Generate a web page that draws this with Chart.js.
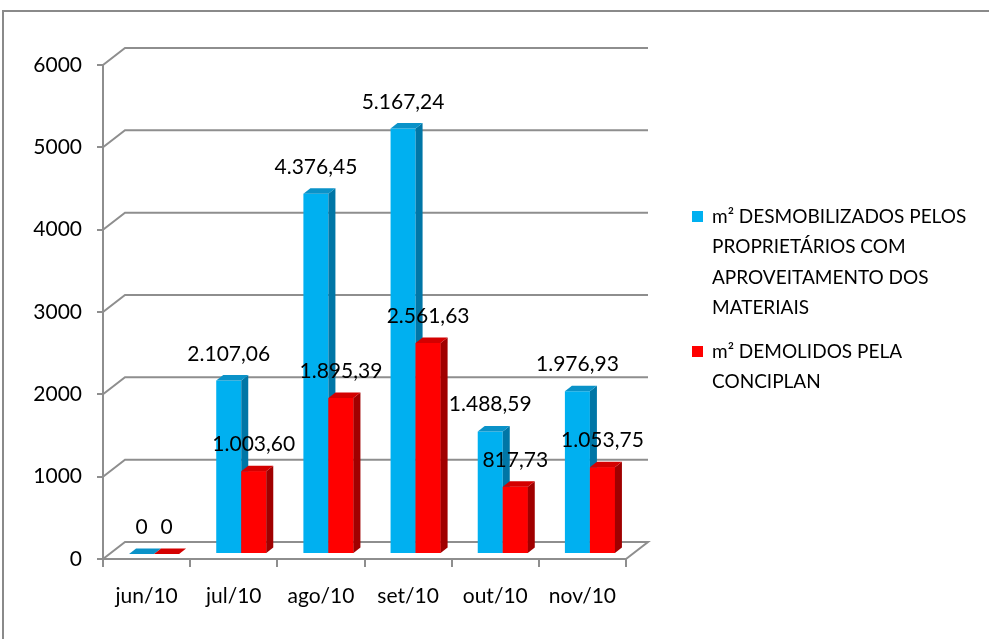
<!DOCTYPE html>
<html lang="pt-BR">

<head>
    <meta charset="UTF-8">
    <meta name="viewport" content="width=device-width, initial-scale=1.0">
    <title>m² desmobilizados x demolidos</title>
    <script src="https://cdn.jsdelivr.net/npm/chart.js"></script>
    <style>
        html, body { margin: 0; padding: 0; background: #fff; }
        canvas { display: block; }
    </style>
</head>

<body>
    <canvas id="barChart" width="989" height="639"></canvas>

    <script>
        // data
        const categories = ['jun/10', 'jul/10', 'ago/10', 'set/10', 'out/10', 'nov/10'];
        const desmobilizados = [0, 2107.06, 4376.45, 5167.24, 1488.59, 1976.93];
        const demolidos = [0, 1003.60, 1895.39, 2561.63, 817.73, 1053.75];
        const legendLines = [
            ['m² DESMOBILIZADOS PELOS', 'PROPRIETÁRIOS COM', 'APROVEITAMENTO DOS', 'MATERIAIS'],
            ['m² DEMOLIDOS PELA', 'CONCIPLAN']
        ];
        const yMin = 0, yMax = 6000, yStep = 1000;

        const FONT = 'Lato, "Open Sans", sans-serif';
        const GRID = '#8e8e8e';
        const TEXT = '#000';
        // front face, top face, side face
        const blues = ['#00b0f0', '#0a92c8', '#0076a6'];
        const reds = ['#ff0000', '#d40000', '#a00000'];

        // depth of the box (back wall offset) and of the bars
        const DX = 22, DY = -17;
        const OX = 7.5, OY = -5;
        const BDX = 7, BDY = -5.5;

        function fmt(v) {
            if (v === 0) return '0';
            const parts = v.toFixed(2).split('.');
            return parts[0].replace(/\B(?=(\d{3})+(?!\d))/g, '.') + ',' + parts[1];
        }

        function drawBox3d(ctx, el, cols) {
            const x0 = el.x - el.width / 2, x1 = el.x + el.width / 2;
            const top = el.y, base = el.base;
            // side
            ctx.fillStyle = cols[2];
            ctx.beginPath();
            ctx.moveTo(x1, top);
            ctx.lineTo(x1 + BDX, top + BDY);
            ctx.lineTo(x1 + BDX, base + BDY);
            ctx.lineTo(x1, base);
            ctx.closePath();
            ctx.fill();
            // top
            ctx.fillStyle = cols[1];
            ctx.beginPath();
            ctx.moveTo(x0, top);
            ctx.lineTo(x1, top);
            ctx.lineTo(x1 + BDX, top + BDY);
            ctx.lineTo(x0 + BDX, top + BDY);
            ctx.closePath();
            ctx.fill();
        }

        const box3d = {
            id: 'box3d',
            beforeDraw(chart) {
                const ctx = chart.ctx;
                ctx.save();
                ctx.fillStyle = '#fff';
                ctx.fillRect(0, 0, chart.width, chart.height);
                ctx.strokeStyle = '#8a8a8a';
                ctx.lineWidth = 2;
                ctx.strokeRect(3, 11, chart.width + 50, chart.height + 50);
                ctx.restore();
            },
            beforeDatasetsDraw(chart) {
                const ctx = chart.ctx;
                const a = chart.chartArea;
                const y = chart.scales.y;
                ctx.save();
                ctx.strokeStyle = GRID;
                ctx.lineWidth = 2;
                for (let v = yMin; v <= yMax; v += yStep) {
                    const py = y.getPixelForValue(v);
                    ctx.beginPath();
                    ctx.moveTo(a.left, py);
                    ctx.lineTo(a.left + DX, py + DY);
                    ctx.lineTo(a.right + DX, py + DY);
                    if (v === yMin) {
                        ctx.lineTo(a.right, py);
                    }
                    ctx.stroke();
                }
                ctx.restore();
                // bars sit a bit inside the box
                ctx.save();
                ctx.translate(OX, OY);
            },
            afterDatasetsDraw(chart) {
                const ctx = chart.ctx;
                const blueMeta = chart.getDatasetMeta(0);
                const redMeta = chart.getDatasetMeta(1);
                blueMeta.data.forEach((blue, i) => {
                    const red = redMeta.data[i];
                    drawBox3d(ctx, blue, blues);
                    red.draw(ctx);
                    drawBox3d(ctx, red, reds);
                });
                // value labels
                ctx.fillStyle = TEXT;
                ctx.font = '21px ' + FONT;
                ctx.textAlign = 'center';
                ctx.textBaseline = 'alphabetic';
                [blueMeta, redMeta].forEach((meta, d) => {
                    const values = chart.data.datasets[d].data;
                    meta.data.forEach((el, i) => {
                        ctx.fillText(fmt(values[i]), el.x, el.y - 20);
                    });
                });
                ctx.restore();
            },
            afterDraw(chart) {
                const ctx = chart.ctx;
                ctx.save();
                ctx.font = '19px ' + FONT;
                ctx.textAlign = 'left';
                ctx.textBaseline = 'alphabetic';
                const starts = [223, 358];
                const colors = [blues[0], reds[0]];
                legendLines.forEach((lines, s) => {
                    ctx.fillStyle = colors[s];
                    ctx.fillRect(692, starts[s] - 12, 11, 11);
                    ctx.fillStyle = TEXT;
                    lines.forEach((t, k) => {
                        ctx.fillText(t, 712, starts[s] + k * 30.3);
                    });
                });
                ctx.restore();
            }
        };

        document.addEventListener('DOMContentLoaded', function () {
            const ctx = document.getElementById('barChart').getContext('2d');

            const config = {
                type: 'bar',
                data: {
                    labels: categories,
                    datasets: [{
                        label: legendLines[0].join(' '),
                        data: desmobilizados,
                        backgroundColor: blues[0],
                        borderWidth: 0
                    }, {
                        label: legendLines[1].join(' '),
                        data: demolidos,
                        backgroundColor: reds[0],
                        borderWidth: 0
                    }]
                },
                options: {
                    responsive: false,
                    animation: false,
                    layout: {
                        padding: { left: 0, top: 65, right: 363, bottom: 0 }
                    },
                    datasets: {
                        bar: {
                            categoryPercentage: 0.574,
                            barPercentage: 1
                        }
                    },
                    scales: {
                        x: {
                            afterFit: function (scale) { scale.height = 80; },
                            grid: {
                                offset: true,
                                drawOnChartArea: false,
                                tickLength: 8,
                                color: GRID,
                                lineWidth: 2
                            },
                            border: { color: GRID, width: 2 },
                            ticks: {
                                color: TEXT,
                                padding: 17,
                                font: { family: FONT, size: 21 }
                            }
                        },
                        y: {
                            min: yMin,
                            max: yMax,
                            afterFit: function (scale) { scale.width = 103; },
                            grid: {
                                drawOnChartArea: false,
                                tickLength: 6,
                                color: GRID,
                                lineWidth: 2
                            },
                            border: { color: GRID, width: 2 },
                            ticks: {
                                stepSize: yStep,
                                color: TEXT,
                                padding: 15,
                                font: { family: FONT, size: 21 },
                                callback: function (value) { return String(value); }
                            }
                        }
                    },
                    plugins: {
                        legend: { display: false },
                        tooltip: { enabled: false }
                    }
                },
                plugins: [box3d]
            };

            new Chart(ctx, config);
        });
    </script>
</body>

</html>
